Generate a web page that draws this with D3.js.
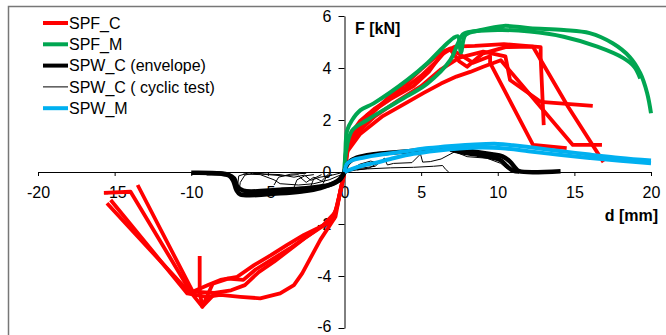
<!DOCTYPE html>
<html>
<head>
<meta charset="utf-8">
<script src="https://cdn.jsdelivr.net/npm/d3@7"></script>
<style>
  body { margin: 0; background: #fff; }
  text { font-family: "Liberation Sans", Arial, sans-serif; }
</style>
</head>
<body>
<svg id="chart" width="666" height="335"></svg>
<script>
const xTicks = [-20, -15, -10, -5, 0, 5, 10, 15, 20]
const yTicks = [-6, -4, -2, 0, 2, 4, 6]
const seriesNames = ["SPF_C", "SPF_M", "SPW_C (envelope)", "SPW_C ( cyclic test)", "SPW_M"]

// SPF_C, each array is one trace [d mm, F kN]
const spfC = [
  [[0,0],[0.1,0.8],[0.4,1.45],[1,1.95],[2,2.45],[3,2.85],[4,3.25],[5,3.7],[6,4.25],[6.6,4.65],[7.2,4.82],[8.5,4.85],[10.4,4.92],[12.4,4.82],[12.8,4.8],[12.8,4.42],[13.0,1.8]],
  [[0,0],[0.15,0.9],[0.6,1.6],[1.5,2.2],[3,2.8],[4.5,3.3],[5.5,3.85],[6.3,4.5],[6.9,4.72],[7.5,4.25],[8.0,4.05],[9.0,4.55],[10.5,4.8],[12.3,4.82],[14.6,2.5],[16.9,0.38]],
  [[0,0],[0.2,0.85],[0.8,1.5],[2,2.15],[3.5,2.75],[5,3.3],[6.3,3.95],[7.5,4.4],[9.05,4.63],[10.5,4.45],[10.8,3.54],[12.8,2.7],[16.2,2.54]],
  [[0,0],[0.2,0.8],[1,1.45],[2.5,2.15],[4,2.65],[5.17,3.04],[6.3,3.4],[7.3,3.67],[8.2,3.85],[9.05,4.05],[10.2,4.3],[14.9,1.04],[16.8,1.04]],
  [[0,0],[0.15,0.85],[0.7,1.55],[1.8,2.25],[3,2.95],[4,3.4],[5,3.95],[6.3,4.6],[6.9,4.75],[8.4,4.2],[9.5,4.45],[9.5,4.2],[12.3,1.04],[14.5,0.92]],
  [[0,0],[-0.26,-0.69],[-0.59,-1.72],[-1.57,-2.6],[-2.76,-3.9],[-3.3,-4.35],[-4.2,-4.67],[-5.5,-4.86],[-6.8,-4.8],[-8.1,-4.73],[-9.0,-4.8],[-10.26,-4.67],[-15.26,-1.08]],
  [[0,0],[-0.26,-0.69],[-0.48,-1.33],[-0.9,-1.9],[-1.78,-2.17],[-2.65,-2.42],[-3.74,-2.8],[-4.8,-3.2],[-5.9,-3.58],[-7.0,-4.03],[-8.1,-4.15],[-8.9,-4.35],[-10.1,-4.65],[-15.5,-1.2]],
  [[0,0],[-0.3,-0.8],[-0.6,-1.55],[-1.4,-2.05],[-2.5,-2.5],[-3.6,-2.95],[-4.7,-3.35],[-5.8,-3.75],[-6.6,-4.15],[-7.6,-4.1],[-8.6,-4.3],[-9.28,-5.18],[-10.0,-4.65],[-13.96,-0.76],[-15.7,-0.8]],
  [[0,0],[-0.2,-0.6],[-0.7,-1.8],[-1.6,-2.15],[-2.6,-2.55],[-3.6,-3.0],[-4.6,-3.45],[-5.6,-3.85],[-6.5,-4.35],[-7.4,-4.55],[-8.5,-4.65],[-9.9,-4.6],[-13.5,-0.5]],
  [[-8.5,-4.7],[-9.28,-5.18],[-9.45,-4.6],[-9.45,-3.23]]
]

// SPF_M
const spfM = [
  [[0,0],[0.05,0.6],[0.17,1.6],[0.5,2.0],[1.04,2.38],[1.9,2.64],[4.1,3.54],[5.4,4.18],[6.47,4.82],[7.1,5.15],[7.4,5.22],[7.6,4.6],[7.9,5.27],[8.9,5.46],[10.4,5.62],[12.1,5.53],[14.3,5.46],[16.0,5.34],[17.5,4.95],[18.6,4.43],[19.3,3.8],[19.75,3.03],[20.0,2.26]],
  [[0,0],[0.1,0.8],[0.5,1.6],[1.48,2.0],[3.65,2.77],[5.4,3.4],[6.9,4.3],[7.35,4.88],[7.6,5.2],[7.8,5.33],[10,5.46],[12.1,5.4],[14.3,5.2],[16.5,4.82],[18.2,4.38],[18.9,4.05],[19.3,3.6]]
]

// SPW_C envelope
const spwCEnvelope = [
  [[0,0],[0.1,0.2],[0.3,0.38],[0.8,0.55],[1.9,0.68],[3.4,0.76],[5,0.84],[6.9,0.9],[7.6,0.88],[8.5,0.78],[9.6,0.68],[10.3,0.6],[10.8,0.4],[11.2,0.12],[11.4,0.03],[14.1,0.03]],
  [[6.9,0.86],[7.5,0.78],[8.5,0.68],[9.7,0.55],[10.2,0.45],[10.6,0.22],[11.0,0.05],[11.4,0.02]],
  [[0,0],[-0.2,-0.2],[-0.48,-0.35],[-1.57,-0.62],[-2.8,-0.75],[-4.2,-0.82],[-6.8,-0.86],[-7.05,-0.7],[-7.25,-0.35],[-7.5,-0.15],[-8.1,-0.06],[-10,-0.03]],
  [[0,0],[-0.3,-0.3],[-1,-0.5],[-2.5,-0.62],[-4.2,-0.68],[-6.6,-0.72],[-7.0,-0.55],[-7.2,-0.25],[-7.6,-0.1],[-9,-0.05]]
]

// SPW_C cyclic test
const spwCCyclic = [
  [[0,0],[1.0,0.14],[2.0,0.22],[2.6,0.53],[2.8,0.27],[3.2,0.33],[4.4,0.36],[4.96,0.69],[5.1,0.38],[5.6,0.4],[6.3,0.5],[7.2,0.78],[8.0,0.59],[9.3,0.53],[10.2,0.33],[10.6,0.14],[11,0.01]],
  [[0,0],[0.8,0.08],[1.5,0.12],[3,0.16],[4.5,0.18],[5.8,0.22],[6.4,0.25],[6.6,0.1],[6.8,0.0]],
  [[0.3,0.05],[1,0.3],[1.7,0.42],[2.2,0.35],[1.6,0.15],[0.8,0.08]],
  [[0,0],[-0.8,-0.12],[-1.6,-0.2],[-2.2,-0.32],[-2.6,-0.12],[-3.3,-0.2],[-4.2,-0.1],[-5.2,-0.08],[-6.2,-0.02],[-6.9,-0.15],[-7.0,-0.65]],
  [[0,-0.05],[-1,-0.3],[-2,-0.45],[-3,-0.5],[-4.2,-0.45],[-4.6,-0.3],[-5.5,-0.1],[-6.6,-0.08]],
  [[-1.0,-0.05],[-1.5,-0.35],[-2.0,-0.2],[-2.5,-0.4],[-3.0,-0.15]],
  [[-6.9,-0.8],[-6.8,-0.4],[-6.5,-0.12],[-6.0,-0.05],[-5,-0.1],[-4,-0.15],[-3,-0.1]],
  [[-4.6,-0.5],[-4.3,-0.2],[-3.5,-0.08],[-2.5,-0.05]],
  [[-3.3,-0.6],[-3.1,-0.3],[-2.6,-0.15],[-2.0,-0.1]],
  [[-2.2,-0.55],[-2.0,-0.25],[-1.5,-0.1]],
  [[-1.4,-0.45],[-1.2,-0.2],[-0.8,-0.1]]
]

// SPW_M
const spwM = [
  [[0,0],[0.15,0.3],[0.5,0.45],[1.2,0.55],[2.5,0.68],[4,0.8],[5.5,0.92],[7,1.0],[8.5,1.06],[10,1.08],[11,1.03],[12,0.96],[13.9,0.82],[16,0.67],[18,0.54],[20,0.44]],
  [[0,0],[0.5,0.12],[1.2,0.25],[2,0.35],[3,0.5],[4.5,0.7],[6,0.82],[7.5,0.9],[9,0.94],[10.5,0.9],[12,0.8],[14,0.66],[16,0.54],[18,0.43],[20,0.34]]
]

var svg = d3.select("#chart")

// chart frame (only top and left edges show)
svg.append("path")
  .attr("d", "M8.5,335V6.5H666")
  .attr("fill", "none")
  .attr("stroke", "#777")
  .attr("stroke-width", 1.5)

var x = d3.scaleLinear().domain([-20, 20]).range([38, 651])
var y = d3.scaleLinear().domain([-6, 6]).range([328, 16])

var xAxis = g => g
  .attr("transform", `translate(0,${y(0)})`)
  .call(d3.axisBottom(x).tickValues(xTicks).tickFormat(d => String(d)).tickSize(4).tickSizeOuter(0).tickPadding(11))

var yAxis = g => g
  .attr("transform", `translate(${x(0)},0)`)
  .call(d3.axisLeft(y).tickValues(yTicks).tickFormat(d => String(d)).tickSize(6).tickSizeOuter(0).tickPadding(7))

for (const ax of [xAxis, yAxis]) {
  var g = svg.append("g").call(ax)
  g.selectAll("text").attr("font-size", 16).attr("font-family", "Liberation Sans, Arial, sans-serif").attr("fill", "#000")
  g.selectAll("line, path").attr("stroke", "#000")
}
// keep the bottom label inside the picture
svg.selectAll(".tick text").filter(d => d === -6).attr("dy", "0.2em")

svg.append("text").attr("x", 355).attr("y", 34).attr("font-size", 16).attr("font-weight", "bold").text("F [kN]")
svg.append("text").attr("x", 658).attr("y", 221).attr("text-anchor", "end").attr("font-size", 16).attr("font-weight", "bold").text("d [mm]")

var straight = d3.line().x(d => x(d[0])).y(d => y(d[1]))
var smooth = d3.line().x(d => x(d[0])).y(d => y(d[1])).curve(d3.curveCatmullRom.alpha(0.5))

var styles = [
  {data: spfC, color: "#ff0000", width: 3.8, line: straight},
  {data: spfM, color: "#00a651", width: 4, line: smooth},
  {data: spwCEnvelope, color: "#000", width: 4.5, line: smooth},
  {data: spwCCyclic, color: "#000", width: 1, line: straight},
  {data: spwM, color: "#00b0f0", width: 4, line: smooth}
]

styles.forEach(s => {
  svg.append("g").selectAll("path")
    .data(s.data)
    .join("path")
    .attr("d", s.line)
    .attr("fill", "none")
    .attr("stroke", s.color)
    .attr("stroke-width", s.width)
    .attr("stroke-linejoin", "round")
})

// legend
var legend = svg.append("g")
seriesNames.forEach((name, i) => {
  var ly = 23 + i * 21.3
  legend.append("line")
    .attr("x1", 43).attr("x2", 68).attr("y1", ly).attr("y2", ly)
    .attr("stroke", styles[i].color)
    .attr("stroke-width", i == 3 ? 1 : 4)
  legend.append("text")
    .attr("x", 69).attr("y", ly).attr("dy", "0.36em")
    .attr("font-size", 16)
    .text(name)
})
</script>
</body>
</html>
